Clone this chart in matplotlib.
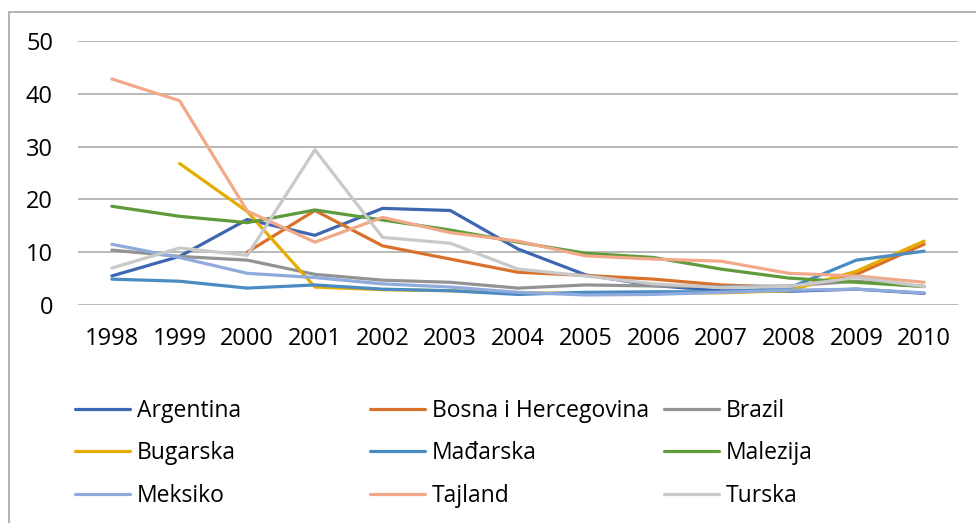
import numpy as np
import matplotlib
matplotlib.use("Agg")
import matplotlib.pyplot as plt
from matplotlib.patches import Rectangle

plt.rcParams['font.family'] = ['Open Sans', 'DejaVu Sans']

years = ["1998", "1999", "2000", "2001", "2002", "2003", "2004",
         "2005", "2006", "2007", "2008", "2009", "2010"]
nan = np.nan

argentina = [5.5, 9.2, 16.2, 13.2, 18.3, 17.9, 10.6, 5.7, 3.7, 2.7, 2.6, 3.0, 2.2]
bosna = [nan, nan, 10.0, 17.9, 11.2, 8.7, 6.2, 5.6, 4.9, 3.8, 3.3, 5.8, 11.5]
brazil = [10.4, 9.2, 8.5, 5.8, 4.7, 4.3, 3.2, 3.8, 3.6, 3.5, 3.6, 4.5, 3.5]
bugarska = [nan, 26.8, 17.7, 3.4, 2.9, 2.7, 2.3, 2.2, 2.3, 2.3, 2.7, 6.4, 12.1]
madarska = [4.9, 4.5, 3.2, 3.8, 3.0, 2.7, 2.0, 2.4, 2.5, 2.5, 3.2, 8.5, 10.2]
malezija = [18.7, 16.8, 15.6, 18.0, 16.1, 14.2, 11.9, 9.8, 9.0, 6.8, 5.1, 4.3, 3.5]
meksiko = [11.5, 9.0, 6.0, 5.2, 4.0, 3.4, 2.4, 1.9, 2.0, 2.4, 2.8, 3.0, 2.3]
tajland = [42.8, 38.7, 17.8, 11.9, 16.6, 13.7, 12.1, 9.3, 8.7, 8.3, 6.0, 5.5, 4.3]
turska = [7.0, 10.8, 9.4, 29.4, 12.8, 11.7, 6.8, 5.5, 4.0, 3.3, 3.5, 5.2, 3.5]

names = ["Argentina", "Bosna i Hercegovina", "Brazil", "Bugarska", "Mađarska",
         "Malezija", "Meksiko", "Tajland", "Turska"]
series = [argentina, bosna, brazil, bugarska, madarska, malezija, meksiko, tajland, turska]
colors = ["#3F67B1", "#D9712B", "#939393", "#E6AD00", "#4A8BC2",
          "#5F9B3A", "#8FAADC", "#F2A98A", "#C9C9C9"]

fig = plt.figure(figsize=(9.76, 5.23), dpi=100)
ax = fig.add_axes([78/976, 1-305/523, 880/976, 264/523])

x = np.arange(len(years))
lines = []
for name, vals, c in zip(names, series, colors):
    ln, = ax.plot(x, vals, color=c, lw=2.3, label=name,
                  solid_capstyle="round", solid_joinstyle="round")
    lines.append(ln)

ax.set_xlim(-0.5, len(years) - 0.5)
ax.set_ylim(0, 50)
ax.set_yticks([0, 10, 20, 30, 40, 50])
ax.set_xticks(x)
ax.set_xticklabels(years)
ax.yaxis.grid(True, color="#A6A6A6", lw=1.1)
ax.set_axisbelow(True)
for s in ax.spines.values():
    s.set_visible(False)
ax.tick_params(axis="both", length=0, labelsize=17, colors="black")
ax.tick_params(axis="y", pad=18)
ax.tick_params(axis="x", pad=16)

# outer frame of the chart area
fig.add_artist(Rectangle((9/976, -0.1), 1.2, 1.1 - 12/523, transform=fig.transFigure,
                         fill=False, edgecolor="#A6A6A6", lw=1.2))

# legend in three columns, filled row by row
col_x = [75/976, 370/976, 664/976]
for j in range(3):
    idx = [j, j + 3, j + 6]
    leg = fig.legend([lines[i] for i in idx], [names[i] for i in idx],
                     loc="upper left", bbox_to_anchor=(col_x[j], 1-399/523),
                     frameon=False, fontsize=16.5, handlelength=2.4,
                     handletextpad=0.3, borderpad=0, borderaxespad=0,
                     labelspacing=0.8)

fig.savefig("out.png", dpi=100)
